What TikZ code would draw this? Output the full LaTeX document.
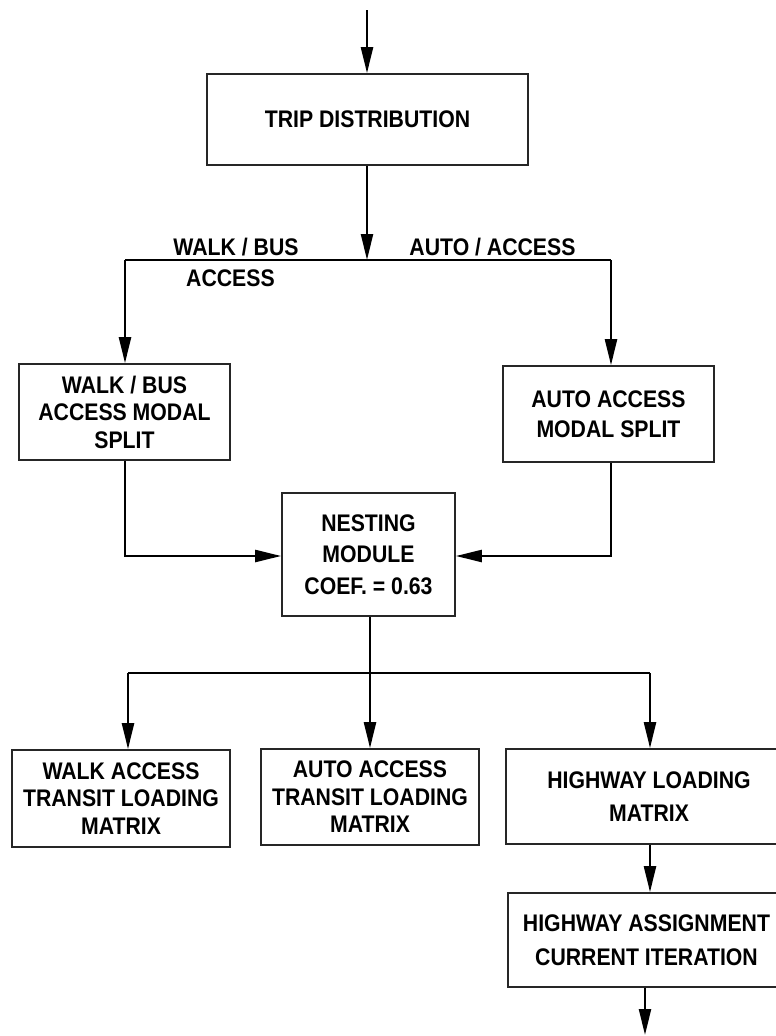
\documentclass[tikz,border=0pt]{standalone}
\usepackage{fontspec}
\setmainfont{Liberation Sans}[FakeStretch=0.885]
\usetikzlibrary{arrows.meta,calc}
\tikzset{
  box/.style={draw=black!85, line width=1.7pt, fill=white, align=center, inner sep=0pt,
    font=\bfseries\fontsize{24}{27.5}\selectfont},
  lbl/.style={inner sep=0pt, font=\bfseries\fontsize{24}{27}\selectfont},
  conn/.style={line width=2.3pt, black},
  arr/.style={conn, -{Triangle[length=26pt,width=12pt]}},
}
\begin{document}
\begin{tikzpicture}[x=1pt,y=-1pt]
\useasboundingbox (0,0) rectangle (776,1036);
% boxes
\node[box, minimum width=321, minimum height=91] (trip) at (367.5,119.5) {TRIP DISTRIBUTION};
\node[box, minimum width=211, minimum height=96] (lb) at (124.5,412) {WALK / BUS\\ACCESS MODAL\\SPLIT};
\node[box, minimum width=211, minimum height=96, font=\bfseries\fontsize{24}{30}\selectfont] (rb) at (608.5,414) {AUTO ACCESS\\MODAL SPLIT};
\node[box, minimum width=173, minimum height=123, font=\bfseries\fontsize{24}{31.5}\selectfont] (nest) at (368.5,554.5) {NESTING\\MODULE\\COEF. = 0.63};
\node[box, minimum width=218, minimum height=97] (b1) at (121,798.5) {WALK ACCESS\\TRANSIT LOADING\\MATRIX};
\node[box, minimum width=218, minimum height=96] (b2) at (370,797) {AUTO ACCESS\\TRANSIT LOADING\\MATRIX};
\node[box, minimum width=286, minimum height=95, font=\bfseries\fontsize{24}{33}\selectfont] (b3) at (649,796.5) {HIGHWAY LOADING\\MATRIX};
\node[box, minimum width=277, minimum height=94, font=\bfseries\fontsize{24}{34}\selectfont] (ha) at (646.5,940) {HIGHWAY ASSIGNMENT\\CURRENT ITERATION};
% coordinates
\coordinate (in) at (367,10);
\coordinate (j1) at (367,260);
\coordinate (jl) at (125,260);
\coordinate (jr) at (611,260);
\coordinate (mid) at (0,556);
\coordinate (j2) at (370,673);
\coordinate (j2l) at (128,673);
\coordinate (j2r) at (650,673);
\coordinate (out) at (645,1035);
% labels
\node[lbl] (lw) at (236,247) {WALK / BUS};
\node[lbl] (la) at (230.5,278) {ACCESS};
\node[lbl] (lr) at (492.5,247) {AUTO / ACCESS};
% connectors
\draw[arr] (in) -- (in |- trip.north);
\draw[arr] (trip.south -| j1) -- (j1);
\draw[conn] (jl) -- (jr);
\draw[arr] (jl) -- (jl |- lb.north);
\draw[arr] (jr) -- (jr |- rb.north);
\draw[arr] (lb.south -| jl) |- (nest.west |- mid);
\draw[arr] (rb.south -| jr) |- (nest.east |- mid);
\draw[conn] (nest.south -| j2) -- (j2);
\draw[conn] (j2l) -- (j2r);
\draw[arr] (j2l) -- (j2l |- b1.north);
\draw[arr] (j2) -- (j2 |- b2.north);
\draw[arr] (j2r) -- (j2r |- b3.north);
\draw[arr] (b3.south -| j2r) -- (ha.north -| j2r);
\draw[arr] (ha.south -| out) -- (out);
\end{tikzpicture}
\end{document}
